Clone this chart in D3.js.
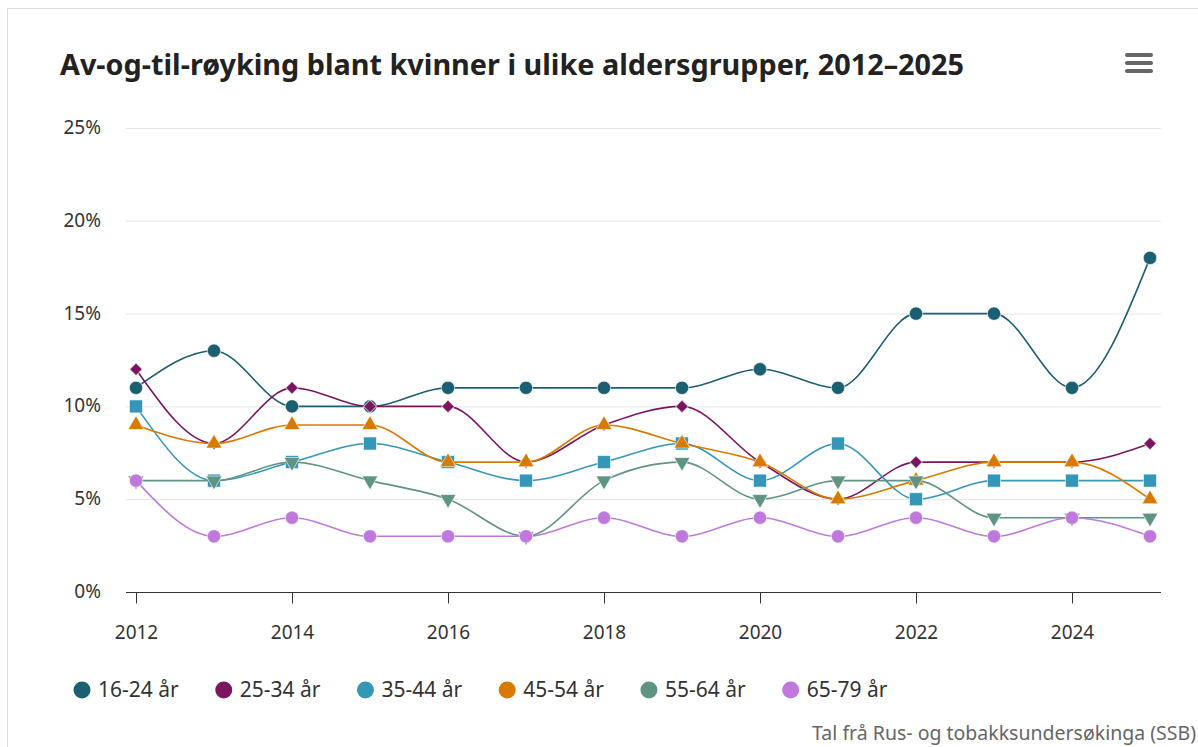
<!DOCTYPE html>
<html>
<head>
<meta charset="utf-8">
<script src="https://cdn.jsdelivr.net/npm/d3@7"></script>
<style>
  html, body { margin: 0; padding: 0; background: #fff; }
  svg { display: block; font-family: "Noto Sans", "Open Sans", sans-serif; }
</style>
</head>
<body>
<div id="chart"></div>
<script>
const width = 1198, height = 747;

// ---- data ----
const years = [2012, 2013, 2014, 2015, 2016, 2017, 2018, 2019, 2020, 2021, 2022, 2023, 2024, 2025];
const groups = ["16-24 år", "25-34 år", "35-44 år", "45-54 år", "55-64 år", "65-79 år"];
const age16_24 = [11, 13, 10, 10, 11, 11, 11, 11, 12, 11, 15, 15, 11, 18];
const age25_34 = [12, 8, 11, 10, 10, 7, 9, 10, 7, 5, 7, 7, 7, 8];
const age35_44 = [10, 6, 7, 8, 7, 6, 7, 8, 6, 8, 5, 6, 6, 6];
const age45_54 = [9, 8, 9, 9, 7, 7, 9, 8, 7, 5, 6, 7, 7, 5];
const age55_64 = [6, 6, 7, 6, 5, 3, 6, 7, 5, 6, 6, 4, 4, 4];
const age65_79 = [6, 3, 4, 3, 3, 3, 4, 3, 4, 3, 4, 3, 4, 3];
const yTicks = [0, 5, 10, 15, 20, 25];
const xTicks = [2012, 2014, 2016, 2018, 2020, 2022, 2024];
const colors = ["#1b5f73", "#7b1560", "#3597b8", "#d77a00", "#5f9484", "#bf79dc"];
const symbols = ["circle", "diamond", "square", "triangle", "triangle-down", "circle"];

const seriesValues = [age16_24, age25_34, age35_44, age45_54, age55_64, age65_79];
const series = groups.map((name, i) => ({
    name,
    color: colors[i],
    symbol: symbols[i],
    values: years.map((y, j) => ({ year: y, value: seriesValues[i][j] }))
}));

const svg = d3.select("#chart").append("svg")
    .attr("width", width)
    .attr("height", height);

// container frame
svg.append("rect")
    .attr("x", 7.5).attr("y", 8.5)
    .attr("width", 1300).attr("height", 800)
    .attr("fill", "#fff")
    .attr("stroke", "#dedede");

// =========================
// SCALES
// =========================
const x = d3.scaleLinear().domain([2012, 2025]).range([136, 1150]);
const y = d3.scaleLinear().domain([0, 25]).range([592, 128]);
const plotLeft = 126, plotRight = 1161;

// gridlines
svg.append("g").selectAll("line")
    .data(yTicks.filter(d => d > 0))
    .join("line")
    .attr("x1", plotLeft).attr("x2", plotRight)
    .attr("y1", d => y(d) + 0.5).attr("y2", d => y(d) + 0.5)
    .attr("stroke", "#e6e6e6")
    .attr("stroke-width", 1);

// y labels
svg.append("g").selectAll("text")
    .data(yTicks)
    .join("text")
    .attr("x", 101)
    .attr("y", d => y(d) + 6)
    .attr("text-anchor", "end")
    .attr("fill", "#333")
    .style("font-size", "19px")
    .text(d => d + "%");

// x axis
const xAxis = svg.append("g")
    .attr("transform", `translate(0, ${y(0) + 0.5})`)
    .call(d3.axisBottom(x).tickValues(xTicks).tickFormat(d3.format("d")).tickSize(11).tickPadding(22));
xAxis.select(".domain").attr("d", `M${plotLeft},0H${plotRight}`).attr("stroke", "#333");
xAxis.selectAll(".tick line").attr("stroke", "#333");
xAxis.selectAll(".tick text")
    .attr("fill", "#333")
    .style("font-size", "19px")
    .style("font-family", "\"Noto Sans\", \"Open Sans\", sans-serif");

// =========================
// LINES + MARKERS
// =========================
const line = d3.line()
    .x(d => x(d.year))
    .y(d => y(d.value))
    .curve(d3.curveMonotoneX);

const symbolPath = {
    "circle": d3.symbol(d3.symbolCircle, 140)(),
    "square": d3.symbol(d3.symbolSquare, 170)(),
    "diamond": d3.symbol(d3.symbolSquare, 80)(),
    "triangle": d3.symbol(d3.symbolTriangle, 110)(),
    "triangle-down": d3.symbol(d3.symbolTriangle, 110)()
};
const symbolRotate = { "diamond": 45, "triangle-down": 180 };

series.forEach(s => {
    const g = svg.append("g");
    g.append("path")
        .datum(s.values)
        .attr("d", line)
        .attr("fill", "none")
        .attr("stroke", s.color)
        .attr("stroke-width", 1.6);

    g.selectAll("path.marker")
        .data(s.values)
        .join("path")
        .attr("class", "marker")
        .attr("d", symbolPath[s.symbol])
        .attr("transform", d => `translate(${x(d.year)}, ${y(d.value)}) rotate(${symbolRotate[s.symbol] || 0})`)
        .attr("fill", s.color)
        .attr("stroke", "#fff")
        .attr("stroke-opacity", 0.6)
        .attr("stroke-width", 1);
});

// =========================
// TITLE
// =========================
svg.append("text")
    .attr("x", 60)
    .attr("y", 75)
    .attr("fill", "#222")
    .style("font-size", "28.8px")
    .style("font-weight", "bold")
    .text("Av-og-til-røyking blant kvinner i ulike aldersgrupper, 2012–2025");

// menu icon
svg.append("g").selectAll("line")
    .data([55, 63, 71])
    .join("line")
    .attr("x1", 1127).attr("x2", 1151)
    .attr("y1", d => d).attr("y2", d => d)
    .attr("stroke", "#666")
    .attr("stroke-width", 4)
    .attr("stroke-linecap", "round");

// =========================
// LEGEND
// =========================
const legend = svg.append("g").attr("transform", "translate(82, 690)");
let lx = 0;
series.forEach(s => {
    const item = legend.append("g").attr("transform", `translate(${lx}, 0)`);
    item.append("circle").attr("r", 8.5).attr("fill", s.color);
    const t = item.append("text")
        .attr("x", 16)
        .attr("y", 7)
        .attr("fill", "#333")
        .style("font-size", "21px")
        .text(s.name);
    lx += 16 + t.node().getComputedTextLength() + 45;
});

// credits
svg.append("text")
    .attr("x", 1196)
    .attr("y", 740)
    .attr("text-anchor", "end")
    .attr("fill", "#666")
    .style("font-size", "19.5px")
    .text("Tal frå Rus- og tobakksundersøkinga (SSB)");
</script>
</body>
</html>
